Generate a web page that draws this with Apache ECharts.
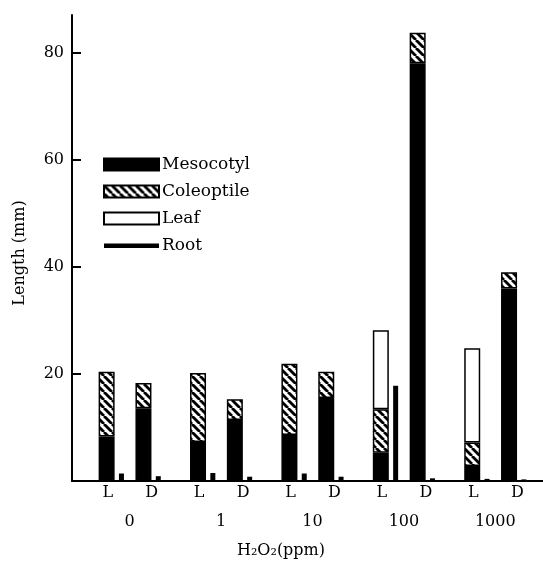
<!DOCTYPE html>
<html>
<head>
<meta charset="utf-8">
<script src="https://cdn.jsdelivr.net/npm/echarts@6/dist/echarts.min.js"></script>
<style>
  html, body { margin: 0; padding: 0; background: #fff; }
  #chart { width: 543px; height: 564px; }
</style>
</head>
<body>
<div id="chart"></div>
<script>
// H2O2 concentrations (ppm), one group of L / D seedlings each
const concentrations = ['0', '1', '10', '100', '1000'];
// light grown (L), length in mm
const mesocotylL  = [8.3, 7.3, 8.6, 5.3, 2.8];
const coleoptileL = [12.1, 12.9, 13.3, 8.1, 4.4];
const leafL       = [null, null, null, 14.8, 17.6];
const rootL       = [1.4, 1.5, 1.4, 17.8, 0.4];
// dark grown (D)
const mesocotylD  = [13.6, 11.4, 15.5, 78.1, 36.0];
const coleoptileD = [4.7, 3.9, 4.9, 5.7, 3.0];
const rootD       = [0.9, 0.8, 0.8, 0.5, 0.3];

const FONT = 'DejaVu Serif';

// diagonal hatch for coleoptile
function makeHatch() {
  const s = 8;
  const c = document.createElement('canvas');
  c.width = s; c.height = s;
  const g = c.getContext('2d');
  g.fillStyle = '#fff';
  g.fillRect(0, 0, s, s);
  g.strokeStyle = '#000';
  g.lineWidth = 2.8;
  for (let k = -1; k <= 1; k++) {
    g.beginPath();
    g.moveTo(k * s, 0);
    g.lineTo(k * s + s, s);
    g.stroke();
  }
  return c;
}
const hatch = { image: makeHatch(), repeat: 'repeat' };

const GAP = '27%';
function part(name, stack, data, color) {
  return {
    type: 'bar', name: name, stack: stack, data: data,
    barWidth: 16, barGap: GAP, clip: false,
    itemStyle: { color: color, borderColor: '#000', borderWidth: 1.5 }
  };
}
function root(data) {
  return { type: 'bar', name: 'Root', data: data, barWidth: 5, barGap: GAP, clip: false, itemStyle: { color: '#000' } };
}

const chart = echarts.init(document.getElementById('chart'));
chart.setOption({
  animation: false,
  textStyle: { fontFamily: FONT, color: '#000' },
  legend: {
    orient: 'vertical', left: 98, top: 151,
    itemWidth: 55, itemHeight: 12, itemGap: 10,
    selectedMode: false,
    textStyle: { fontFamily: FONT, fontSize: 17, lineHeight: 14, color: '#000', padding: [0, 0, 0, -2] },
    data: [
      { name: 'Mesocotyl', icon: 'rect' },
      { name: 'Coleoptile', icon: 'rect' },
      { name: 'Leaf', icon: 'rect' },
      { name: 'Root', icon: 'path://M0,0L0.01,0Z M0,4H55V8.5H0Z M0,12L0.01,12Z' }
    ]
  },
  grid: [
    // bars; top placed so that 80 sits where the reference has it
    { left: 84, right: 2, top: 53, bottom: 83, outerBoundsMode: 'none', containLabel: false },
    // frame: full axis lines
    { left: 72, right: 0, top: 15, bottom: 83, outerBoundsMode: 'none', containLabel: false }
  ],
  xAxis: [{
    type: 'category', gridIndex: 0, data: concentrations,
    axisLine: { show: false },
    axisTick: { show: false },
    axisLabel: {
      interval: 0, margin: 3,
      formatter: v => '{s|L}{g|}{s|D}\n{c|' + v + '}',
      rich: {
        s: { fontFamily: FONT, fontSize: 16, color: '#000', width: 12, align: 'center', lineHeight: 18 },
        g: { width: 32, lineHeight: 18 },
        c: { fontFamily: FONT, fontSize: 16, color: '#000', lineHeight: 40 }
      }
    }
  }, {
    type: 'value', gridIndex: 1, min: 0, max: 1, position: 'bottom',
    axisLine: { show: true, onZero: false, lineStyle: { color: '#000', width: 2 } },
    axisTick: { show: false }, axisLabel: { show: false }, splitLine: { show: false },
    name: 'H₂O₂(ppm)', nameLocation: 'middle', nameGap: 62,
    nameTextStyle: { fontFamily: FONT, fontSize: 16, color: '#000', padding: [0, 53, 0, 0] }
  }],
  yAxis: [{
    type: 'value', gridIndex: 0, min: 0, max: 80, interval: 20, offset: 12,
    axisLine: { show: false },
    axisTick: { show: true, inside: true, length: 9, lineStyle: { color: '#000', width: 2 } },
    axisLabel: { margin: 8, showMinLabel: false, fontFamily: FONT, fontSize: 16, color: '#000' },
    splitLine: { show: false }
  }, {
    type: 'value', gridIndex: 1, min: 0, max: 1, position: 'left',
    axisLine: { show: true, onZero: false, lineStyle: { color: '#000', width: 2 } },
    axisTick: { show: false }, axisLabel: { show: false }, splitLine: { show: false },
    name: 'Length (mm)', nameLocation: 'middle', nameGap: 44, nameRotate: 90,
    nameTextStyle: { fontFamily: FONT, fontSize: 16, color: '#000', padding: [0, 10, 0, 0] }
  }],
  series: [
    part('Mesocotyl', 'L', mesocotylL, '#000'),
    part('Coleoptile', 'L', coleoptileL, hatch),
    part('Leaf', 'L', leafL, '#fff'),
    root(rootL),
    { type: 'bar', name: 'spacer', data: [], barWidth: 8, barGap: GAP },
    part('Mesocotyl', 'D', mesocotylD, '#000'),
    part('Coleoptile', 'D', coleoptileD, hatch),
    root(rootD)
  ]
});
</script>
</body>
</html>
